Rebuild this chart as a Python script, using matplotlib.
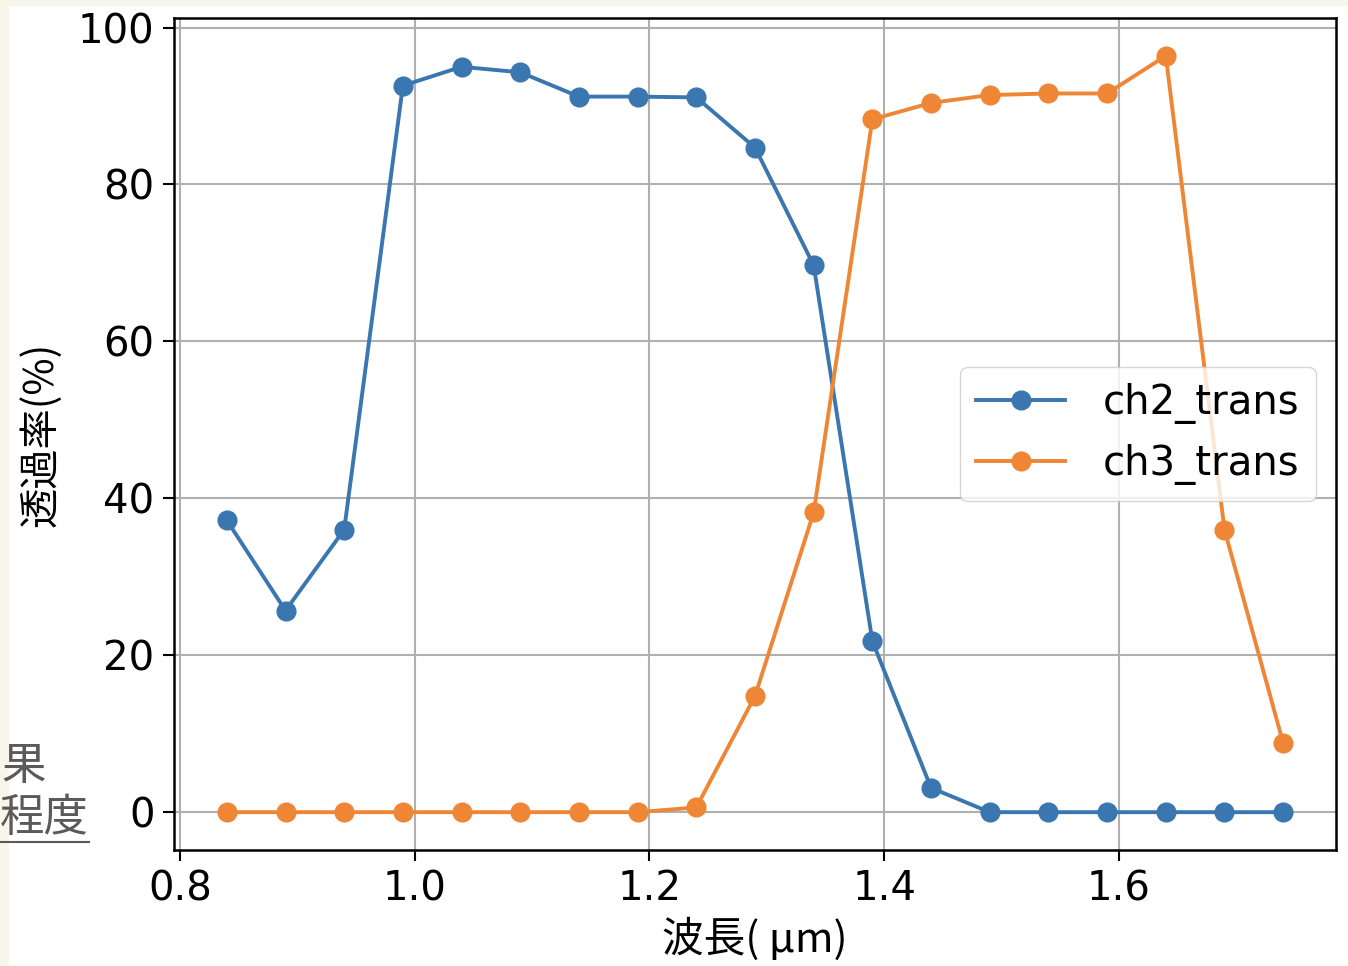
import matplotlib
matplotlib.use("Agg")
import matplotlib.pyplot as plt

plt.rcParams['font.family'] = ['DejaVu Sans', 'Noto Sans CJK JP']

wavelength = [0.84, 0.89, 0.94, 0.99, 1.04, 1.09, 1.14, 1.19, 1.24, 1.29,
              1.34, 1.39, 1.44, 1.49, 1.54, 1.59, 1.64, 1.69, 1.74]
ch2_trans = [37.2, 25.7, 36.0, 92.6, 95.0, 94.3, 91.2, 91.2, 91.1, 84.7,
             69.7, 21.8, 3.1, 0.0, 0.0, 0.0, 0.0, 0.0, 0.0]
ch3_trans = [0.0, 0.0, 0.0, 0.0, 0.0, 0.0, 0.0, 0.0, 0.6, 14.8,
             38.2, 88.3, 90.4, 91.4, 91.6, 91.6, 96.4, 36.0, 8.8]
series_names = ['ch2_trans', 'ch3_trans']
xticks = [0.8, 1.0, 1.2, 1.4, 1.6]
yticks = [0, 20, 40, 60, 80, 100]

CJK = ['Noto Sans CJK JP', 'DejaVu Sans']


def main():
    fig = plt.figure(figsize=(13.48, 9.66), dpi=100)
    fig.patch.set_facecolor('white')

    # bits of the page the screenshot was cut from
    cream = '#f8f6ea'
    fig.patches.append(plt.Rectangle((0, 0), 8 / 1348, 1, transform=fig.transFigure,
                                     color=cream, zorder=0))
    fig.patches.append(plt.Rectangle((0, 1 - 5 / 966), 1, 5 / 966, transform=fig.transFigure,
                                     color=cream, zorder=0))
    fig.text(46 / 1348, 1 - 766 / 966, '果', ha='right', va='center',
             fontsize=32, color='#5a5a5a', family=CJK)
    fig.text(89 / 1348, 1 - 818 / 966, '程度', ha='right', va='center',
             fontsize=32, color='#5a5a5a', family=CJK)
    fig.lines.append(plt.Line2D([0, 89 / 1348], [1 - 842 / 966] * 2,
                                transform=fig.transFigure, color='#5a5a5a', lw=1.5))

    ax = fig.add_axes([174 / 1348, 116 / 966, 1162 / 1348, 832 / 966])
    ax.plot(wavelength, ch2_trans, '-o', color='#3a76af', lw=2.8, ms=13.5,
            label=series_names[0])
    ax.plot(wavelength, ch3_trans, '-o', color='#ef8636', lw=2.8, ms=13.5,
            label=series_names[1])

    ax.set_xticks(xticks)
    ax.set_xticklabels([f'{v:.1f}' for v in xticks])
    ax.set_yticks(yticks)
    ax.grid(True, color='#b0b0b0', lw=1.5)
    ax.tick_params(labelsize=29, length=8, width=1.5, pad=6)
    for s in ax.spines.values():
        s.set_linewidth(1.8)

    ax.set_xlabel('波長( μm)', fontsize=30, labelpad=6, family=CJK)
    ax.set_ylabel('透過率(%)', fontsize=29, labelpad=12, family=CJK)

    ax.legend(loc='center right', fontsize=29, handlelength=2.2,
              handletextpad=0.95, borderaxespad=0.5, framealpha=0.8)

    fig.savefig('out.png', dpi=100)


if __name__ == '__main__':
    main()
